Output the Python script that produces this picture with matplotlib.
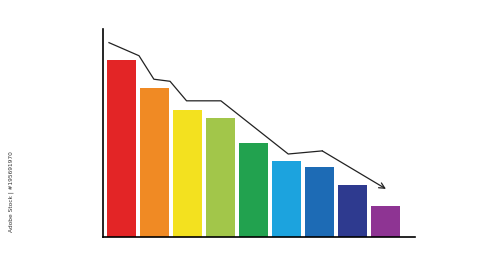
import numpy as np
import matplotlib.pyplot as plt

# bar heights (axis top = 100)
bar_values = [85.1, 71.4, 61.0, 57.3, 45.0, 36.3, 33.7, 24.7, 14.8]
bar_colors = ['#E32526', '#F08A24', '#F3E11F', '#A2C64A', '#22A24F',
              '#1CA3DE', '#1D6BB5', '#2E3A8F', '#8E3493']

# trend line drawn above the bars
trend_x = [-0.37, 0.54, 0.99, 1.48, 1.98, 3.02, 5.06, 6.09, 8.02]
trend_y = [93.4, 87.1, 75.8, 74.8, 65.4, 65.4, 39.8, 41.3, 23.0]

fig = plt.figure(figsize=(5, 2.73), dpi=100)
ax = fig.add_axes([0.2054, 0.133, 0.6246, 0.761])

pos = np.arange(len(bar_values))
ax.bar(pos, bar_values, width=0.88, color=bar_colors)

ax.plot(trend_x[:-1], trend_y[:-1], color='#222222', lw=0.9)
ax.annotate('', xy=(trend_x[-1], trend_y[-1]), xytext=(trend_x[-2], trend_y[-2]),
            arrowprops=dict(arrowstyle='->', color='#222222', lw=0.9,
                            shrinkA=0, shrinkB=0, mutation_scale=10))

ax.set_xlim(-0.56, 8.9)
ax.set_ylim(0, 100)
for s in ['top', 'right']:
    ax.spines[s].set_visible(False)
ax.spines['left'].set_linewidth(1.2)
ax.spines['bottom'].set_linewidth(1.2)
ax.set_xticks([])
ax.set_yticks([])

fig.text(0.022, 0.30, 'Adobe Stock | #195691970', rotation=90, fontsize=4.2,
         color='#333333', ha='center', va='center')

fig.savefig('out.png', dpi=100)
